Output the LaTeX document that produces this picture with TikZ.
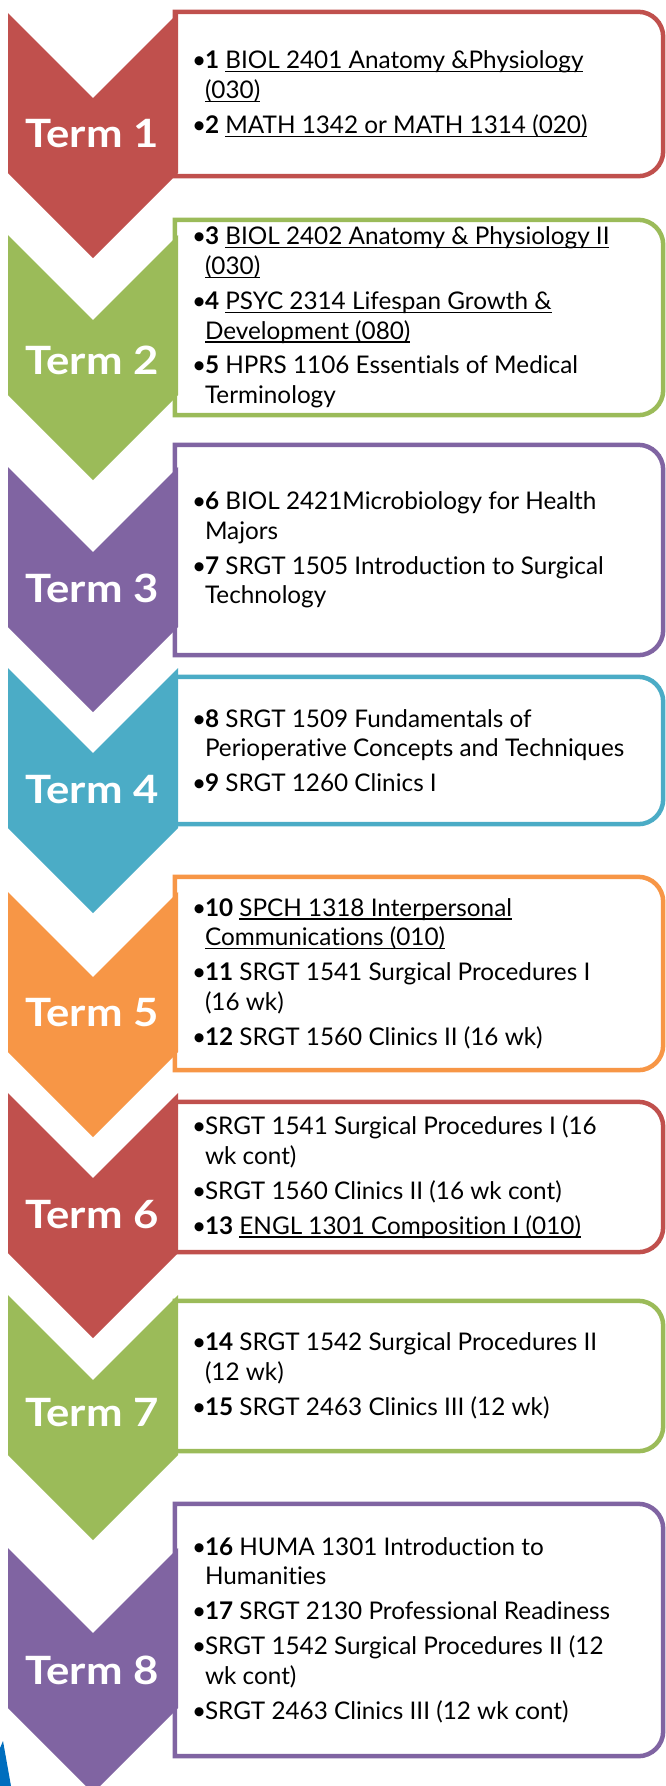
\documentclass[tikz,border=0pt]{standalone}
\usepackage{fontspec}
\setmainfont{Lato}[Ligatures={NoCommon}]
\definecolor{cRed}{HTML}{C0504D}
\definecolor{cGreen}{HTML}{9BBB59}
\definecolor{cPurple}{HTML}{8064A2}
\definecolor{cBlue}{HTML}{4BACC6}
\definecolor{cOrange}{HTML}{F79646}
\definecolor{cLogo}{RGB}{0,110,190}
\newsavebox{\myulbox}
\newcommand{\myul}[1]{\sbox{\myulbox}{#1}\rlap{\rule[-3.5pt]{\wd\myulbox}{1.2pt}}\usebox{\myulbox}}
\newcommand{\bul}{\makebox[13pt][l]{•}}
\newcommand{\ind}{\hspace*{13pt}}
\newcommand{\gap}{\\[5pt]}
\newcommand{\termtext}[1]{\scalebox{1.12}[1]{#1}}
\tikzset{
  boxnode/.style={rectangle, inner sep=0pt, minimum width=488pt},
  txt/.style={anchor=west, inner sep=0pt, align=left, text=black,
    font=\fontsize{24.3}{29.8}\selectfont},
  termlbl/.style={inner sep=0pt, text=white, font=\fontsize{39}{39}\selectfont\bfseries},
  boxline/.style={line width=4.5pt, fill=white}
}
\newcommand{\chevron}[2]{% #1 colour, #2 top (px)
  \fill[#1] (8,-#2) -- (93,-#2-85) -- (178,-#2) -- (178,-#2-160) -- (93,-#2-245) -- (8,-#2-160) -- cycle;}
\newcommand{\boxborder}[2]{% #1 colour, #2 node name
  \draw[boxline, draw=#1] (#2.north west) -- ([xshift=-25pt]#2.north east)
    arc[start angle=90, end angle=0, radius=25pt] -- ([yshift=25pt]#2.south east)
    arc[start angle=0, end angle=-90, radius=25pt] -- (#2.south west) -- cycle;}
\begin{document}
\begin{tikzpicture}[x=1pt, y=1pt]
\useasboundingbox (0,0) rectangle (666,-1786);
\clip (0,0) rectangle (666,-1786);
\fill[white] (0,0) rectangle (666,-1786);

% logo fragment bottom left
\fill[cLogo] (0,-1748) -- (3,-1741) -- (11,-1786) -- (0,-1786) -- cycle;

% box frames (named nodes)
\node[boxnode, minimum height=164pt] (b1) at (419,-94) {};
\node[boxnode, minimum height=195pt] (b2) at (419,-317.5) {};
\node[boxnode, minimum height=210pt] (b3) at (419,-550) {};
\node[boxnode, minimum height=147pt] (b4) at (419,-750.5) {};
\node[boxnode, minimum height=193pt] (b5) at (419,-973.5) {};
\node[boxnode, minimum height=150pt] (b6) at (419,-1177) {};
\node[boxnode, minimum height=150pt] (b7) at (419,-1376) {};
\node[boxnode, minimum height=252pt] (b8) at (419,-1630) {};

\boxborder{cRed}{b1}
\boxborder{cGreen}{b2}
\boxborder{cPurple}{b3}
\boxborder{cBlue}{b4}
\boxborder{cOrange}{b5}
\boxborder{cRed}{b6}
\boxborder{cGreen}{b7}
\boxborder{cPurple}{b8}

% chevrons
\chevron{cRed}{13}
\chevron{cGreen}{235}
\chevron{cPurple}{467}
\chevron{cBlue}{668}
\chevron{cOrange}{892}
\chevron{cRed}{1093}
\chevron{cGreen}{1295}
\chevron{cPurple}{1548}

% term labels
\node[termlbl] (l1) at (92,-134) {\termtext{Term 1}};
\node[termlbl] (l2) at (92,-360) {\termtext{Term 2}};
\node[termlbl] (l3) at (92,-588) {\termtext{Term 3}};
\node[termlbl] (l4) at (92,-790) {\termtext{Term 4}};
\node[termlbl] (l5) at (92,-1013) {\termtext{Term 5}};
\node[termlbl] (l6) at (92,-1215) {\termtext{Term 6}};
\node[termlbl] (l7) at (92,-1413) {\termtext{Term 7}};
\node[termlbl] (l8) at (92,-1670) {\termtext{Term 8}};

% box texts
\node[txt] (t1) at ([xshift=17pt]b1.west) {%
\bul\textbf{1} \myul{BIOL 2401 Anatomy \&Physiology}\\
\ind\myul{(030)}\gap
\bul\textbf{2} \myul{MATH 1342 or MATH 1314 (020)}};

\node[txt] (t2) at ([xshift=17pt]b2.west) {%
\bul\textbf{3} \myul{BIOL 2402 Anatomy \& Physiology II}\\
\ind\myul{(030)}\gap
\bul\textbf{4} \myul{PSYC 2314 Lifespan Growth \&}\\
\ind\myul{Development (080)}\gap
\bul\textbf{5} HPRS 1106 Essentials of Medical\\
\ind Terminology};

\node[txt] (t3) at ([xshift=17pt]b3.west) {%
\bul\textbf{6} BIOL 2421Microbiology for Health\\
\ind Majors\gap
\bul\textbf{7} SRGT 1505 Introduction to Surgical\\
\ind Technology};

\node[txt] (t4) at ([xshift=17pt]b4.west) {%
\bul\textbf{8} SRGT 1509 Fundamentals of\\
\ind Perioperative Concepts and Techniques\gap
\bul\textbf{9} SRGT 1260 Clinics I};

\node[txt] (t5) at ([xshift=17pt]b5.west) {%
\bul\textbf{10} \myul{SPCH 1318 Interpersonal}\\
\ind\myul{Communications (010)}\gap
\bul\textbf{11} SRGT 1541 Surgical Procedures I\\
\ind (16 wk)\gap
\bul\textbf{12} SRGT 1560 Clinics II (16 wk)};

\node[txt] (t6) at ([xshift=17pt]b6.west) {%
\bul SRGT 1541 Surgical Procedures I (16\\
\ind wk cont)\gap
\bul SRGT 1560 Clinics II (16 wk cont)\gap
\bul\textbf{13} \myul{ENGL 1301 Composition I (010)}};

\node[txt] (t7) at ([xshift=17pt]b7.west) {%
\bul\textbf{14} SRGT 1542 Surgical Procedures II\\
\ind (12 wk)\gap
\bul\textbf{15} SRGT 2463 Clinics III (12 wk)};

\node[txt] (t8) at ([xshift=17pt]b8.west) {%
\bul\textbf{16} HUMA 1301 Introduction to\\
\ind Humanities\gap
\bul\textbf{17} SRGT 2130 Professional Readiness\gap
\bul SRGT 1542 Surgical Procedures II (12\\
\ind wk cont)\gap
\bul SRGT 2463 Clinics III (12 wk cont)};
\end{tikzpicture}
\end{document}
